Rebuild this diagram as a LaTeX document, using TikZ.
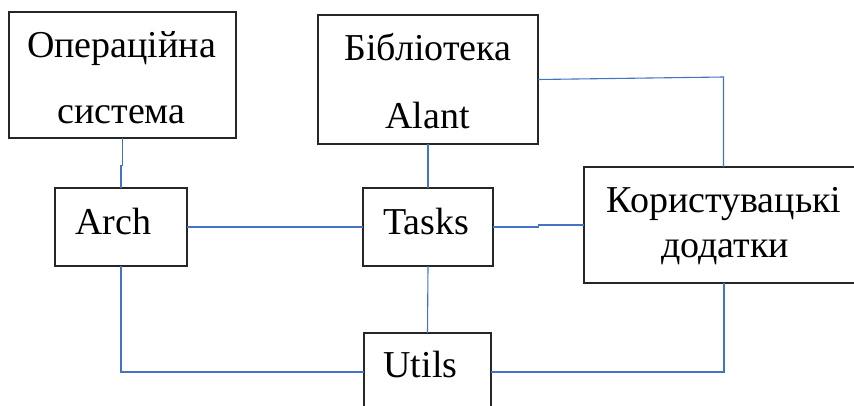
\documentclass[tikz,border=0pt]{standalone}
\usepackage{fontspec}
\setmainfont{Liberation Serif}
\usetikzlibrary{calc}
\definecolor{wordblue}{HTML}{4472C4}
\begin{document}
\begin{tikzpicture}[x=1pt,y=-1pt,
  box/.style={draw=black!85, line width=1.3pt, inner sep=0pt, outer sep=0pt},
  lbl/.style={anchor=base, inner sep=0pt, font=\fontsize{38}{38}\selectfont},
  link/.style={draw=wordblue, line width=1.1pt}]
\useasboundingbox (0,0) rectangle (854,405);
\begin{scope}
\clip (0,0) rectangle (854,405);
% boxes
\node[box, minimum width=227pt, minimum height=126pt] (os) at (122.5,75) {};
\node[box, minimum width=220pt, minimum height=129pt] (lib) at (428,79.5) {};
\node[box, minimum width=132pt, minimum height=78pt] (arch) at (121,227) {};
\node[box, minimum width=130pt, minimum height=78pt] (tasks) at (428,227) {};
\node[box, minimum width=274pt, minimum height=116pt] (apps) at (721,225) {};
\node[box, minimum width=127pt, minimum height=78pt] (utils) at (427.5,372) {};
% texts
\node[lbl] (t1) at (121.5,57) {Операційна};
\node[lbl] (t2) at (121.5,123) {система};
\node[lbl] (t3) at (428,60) {Бібліотека};
\node[lbl] (t4) at (427.5,128) {Alant};
\node[lbl] (t5) at (113.5,234) {Arch};
\node[lbl] (t6) at (426,234) {Tasks};
\node[lbl] (t7) at (420.5,377) {Utils};
\node[lbl] (t8) at (724,212) {Користувацькі};
\node[lbl] (t9) at (725,257) {додатки};
% connectors
\coordinate (libc) at (723.5,77);
\draw[link] (os.south) |- ($(os.south)!0.55!(arch.north)$) -| (arch.north);
\draw[link] (arch.east) -- (tasks.west);
\draw[link] (lib.south) -- (tasks.north);
\draw[link] (lib.east) -- (libc) -- (libc |- apps.north);
\draw[link] (tasks.east) -| ($(tasks.east)!0.5!(apps.west)$) |- (apps.west);
\draw[link] (tasks.south) -- (utils.north);
\draw[link] (arch.south) |- (utils.west);
\draw[link] (utils.east) -| ([xshift=3pt]apps.south);
\end{scope}
\end{tikzpicture}
\end{document}
